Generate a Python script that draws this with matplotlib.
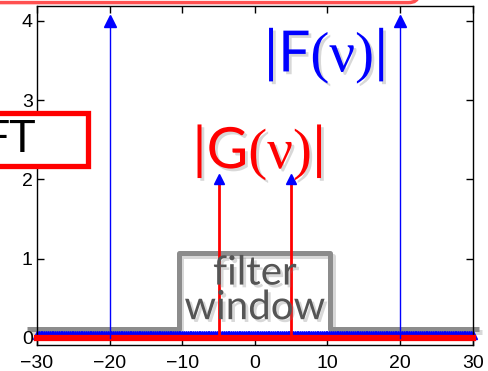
import numpy as np
import matplotlib
matplotlib.use("Agg")
import matplotlib.pyplot as plt
import matplotlib.patheffects as pe
from matplotlib.patches import FancyBboxPatch

plt.rcParams['font.family'] = ['Liberation Sans', 'DejaVu Sans']
plt.rcParams['mathtext.fontset'] = 'custom'
plt.rcParams['mathtext.rm'] = 'Liberation Serif'
plt.rcParams['mathtext.sf'] = 'Lato'

# spectrum of the unfiltered signal |F(nu)|
F_nu = [-20, 20]
F_amp = [4, 4]

# spectrum after filtering |G(nu)|
G_nu = [-5, 5]
G_amp = [2, 2]

# sample grid of the spectra (zero everywhere except the spikes)
nu_grid = np.linspace(-30, 30, 241)
zero_amp = np.zeros_like(nu_grid)

# outline of the filter window
window_nu = [-31.4, -10.5, -10.5, 10.4, 10.4, 30.9]
window_h = [0.11, 0.11, 1.07, 1.07, 0.11, 0.11]

x_ticks = [-30, -20, -10, 0, 10, 20, 30]
y_ticks = [0, 1, 2, 3, 4]

fig = plt.figure(figsize=(4.89, 3.71), dpi=100)
ax = fig.add_axes([0.0757, 0.070, 0.891, 0.914])

text_shadow = [pe.SimplePatchShadow(offset=(2, -2), shadow_rgbFace='0.5', alpha=0.3), pe.Normal()]
line_shadow = [pe.SimpleLineShadow(offset=(2, -2), shadow_color='0.5', alpha=0.3), pe.Normal()]

# filter window
ax.plot(window_nu, window_h, color='#8c8c8c', lw=3.6, clip_on=False, zorder=1,
        solid_capstyle='butt', path_effects=line_shadow)

# zero-valued samples along the axis
ax.plot(nu_grid, zero_amp + 0.04, ls='none', marker='^', ms=6, color='blue',
        mec='blue', clip_on=False, zorder=2)
ax.plot([-30, 30], [0, 0], color='red', lw=4.5, zorder=3, clip_on=False)

# stems of |F|
for x, h in zip(F_nu, F_amp):
    ax.plot([x, x], [0, h], color='blue', lw=1.0, zorder=4)
ax.plot(F_nu, F_amp, ls='none', marker='^', ms=8, color='blue', zorder=5, clip_on=False)

# stems of |G|
for x, h in zip(G_nu, G_amp):
    ax.plot([x, x], [0, h], color='red', lw=2.0, zorder=4)
ax.plot(G_nu, G_amp, ls='none', marker='^', ms=7, color='blue', zorder=5)

ax.set_xlim(-30, 30)
ax.set_ylim(-0.09, 4.19)
ax.set_xticks(x_ticks)
ax.set_yticks(y_ticks)
ax.tick_params(direction='in', length=5, width=1, labelsize=14, top=True, right=True)
ax.tick_params(axis='x', pad=7)
ax.tick_params(axis='y', pad=3)
for s in ax.spines.values():
    s.set_linewidth(1.0)

ax.text(9.6, 3.55, r'$\mathsf{|F}\mathrm{(\nu)}\mathsf{|}$', color='blue', fontsize=41,
        ha='center', va='center', path_effects=text_shadow, zorder=6)
ax.text(0.4, 2.33, r'$\mathsf{|G}\mathrm{(\nu)}\mathsf{|}$', color='red', fontsize=41,
        ha='center', va='center', path_effects=text_shadow, zorder=6)
ax.text(0, 0.6, 'filter\nwindow', color='#555555', fontsize=29, family='Lato',
        ha='center', va='center', linespacing=0.92, path_effects=text_shadow, zorder=6)

# callout boxes around the plot
top_box = FancyBboxPatch((-0.05, 0.993), 0.905, 0.2, boxstyle='round,pad=0,rounding_size=0.02',
                         transform=fig.transFigure, fc='none', ec='#ff5050', lw=2.5,
                         clip_on=False, zorder=10)
fig.patches.append(top_box)
ft_box = FancyBboxPatch((-0.05, 0.553), 0.229, 0.143, boxstyle='square,pad=0',
                        transform=fig.transFigure, fc='white', ec='red', lw=3.8,
                        clip_on=False, zorder=10, path_effects=text_shadow)
fig.patches.append(ft_box)
fig.text(0.074, 0.624, 'FT', fontsize=32, family='Lato', color='black',
         ha='right', va='center', zorder=11)

plt.savefig('out.png', dpi=100)
